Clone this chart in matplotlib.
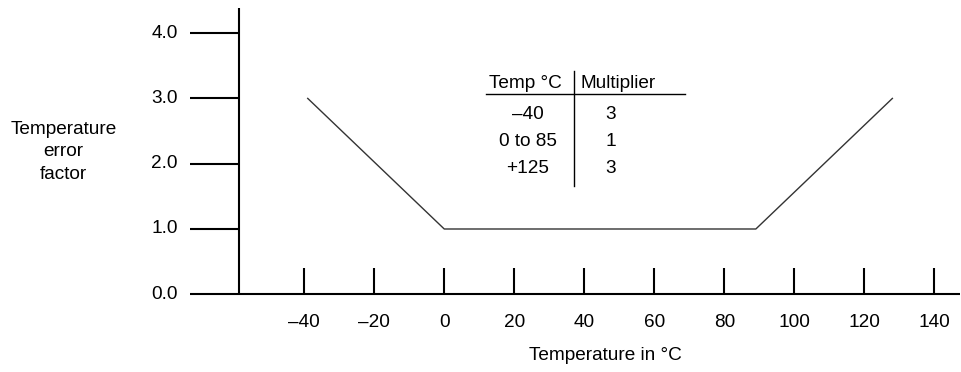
import matplotlib
matplotlib.use("Agg")
import matplotlib.pyplot as plt

plt.rcParams["font.family"] = ["Liberation Sans", "DejaVu Sans"]

# curve: temperature (°C) vs error factor
temp = [-39, 0, 89, 128]
factor = [3.0, 1.0, 1.0, 3.0]

x_ticks = [-40, -20, 0, 20, 40, 60, 80, 100, 120, 140]
x_tick_labels = ["–40", "–20", "0", "20", "40", "60", "80", "100", "120", "140"]
y_ticks = [0.0, 1.0, 2.0, 3.0, 4.0]
y_tick_labels = ["0.0", "1.0", "2.0", "3.0", "4.0"]

# inset table
table_header = ["Temp °C", "Multiplier"]
table_temps = ["–40", "0 to 85", "+125"]
table_mult = ["3", "1", "3"]

fig = plt.figure(figsize=(9.61, 3.72), dpi=100)
ax = fig.add_axes([0, 0, 1, 1])
ax.set_xlim(-126.9, 147.6)
ax.set_ylim(-1.19, 4.507)
ax.axis("off")

fs = 13.7
axis_lw = 1.5

# axes lines
ax.plot([-72.5, 147.3], [0, 0], color="black", lw=axis_lw, solid_capstyle="butt")
ax.plot([-58.6, -58.6], [0, 4.38], color="black", lw=axis_lw, solid_capstyle="butt")

# y ticks (long horizontal stubs left of the axis)
for y, lab in zip(y_ticks, y_tick_labels):
    if y > 0:
        ax.plot([-72.5, -58.6], [y, y], color="black", lw=axis_lw, solid_capstyle="butt")
    ax.text(-76.1, y, lab, ha="right", va="center", fontsize=fs)

# x ticks (vertical stubs above the axis)
for x, lab in zip(x_ticks, x_tick_labels):
    ax.plot([x, x], [0, 0.40], color="black", lw=axis_lw, solid_capstyle="butt")
    ax.text(x, -0.43, lab, ha="center", va="center", fontsize=fs)

ax.text(46, -0.93, "Temperature in °C", ha="center", va="center", fontsize=fs)
ax.text(-108.7, 2.18, "Temperature\nerror\nfactor", ha="center", va="center",
        fontsize=fs, linespacing=1.45)

# data curve
ax.plot(temp, factor, color="#333333", lw=1.0)

# table
ax.plot([11.8, 68.7], [3.06, 3.06], color="black", lw=1.0)
ax.plot([37.1, 37.1], [1.66, 3.42], color="black", lw=1.0)
ax.text(23.3, 3.23, table_header[0], ha="center", va="center", fontsize=fs)
ax.text(39.0, 3.23, table_header[1], ha="left", va="center", fontsize=fs)
for i, (t, m) in enumerate(zip(table_temps, table_mult)):
    yy = 2.76 - i * 0.415
    ax.text(23.8, yy, t, ha="center", va="center", fontsize=fs)
    ax.text(47.5, yy, m, ha="center", va="center", fontsize=fs)

fig.savefig("out.png", dpi=100)
